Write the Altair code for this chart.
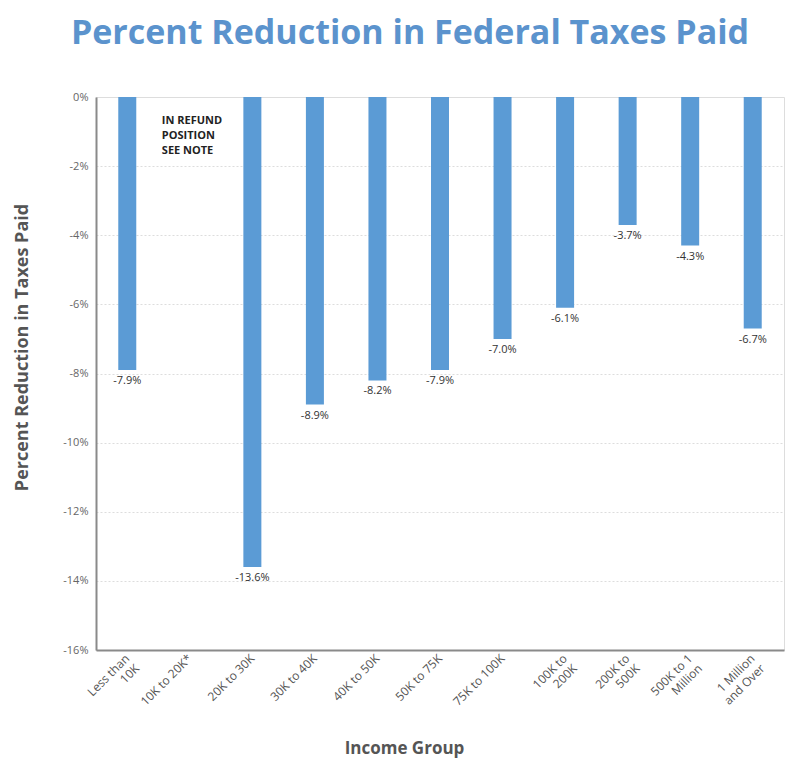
import altair as alt
import pandas as pd

groups = ["Less than|10K", "10K to 20K*", "20K to 30K", "30K to 40K", "40K to 50K",
          "50K to 75K", "75K to 100K", "100K to|200K", "200K to|500K", "500K to 1|Million",
          "1 Million|and Over"]
values = [-7.9, None, -13.6, -8.9, -8.2, -7.9, -7.0, -6.1, -3.7, -4.3, -6.7]
labels = ["-7.9%", "", "-13.6%", "-8.9%", "-8.2%", "-7.9%", "-7.0%", "-6.1%", "-3.7%", "-4.3%", "-6.7%"]

df = pd.DataFrame({"group": groups, "value": values, "label": labels})
bars_df = df.dropna()

note_df = pd.DataFrame({"group": ["10K to 20K*"], "text": [["IN REFUND", "POSITION", "SEE NOTE"]]})

x_enc = alt.X("group:N", sort=groups, scale=alt.Scale(paddingInner=0.0, paddingOuter=0.0),
              axis=alt.Axis(title="Income Group", labelAngle=-45, labelAlign="right",
                            labelBaseline="middle", labelExpr="split(datum.label, '|')",
                            labelFontSize=12, labelColor="#555555", labelFont="Open Sans",
                            labelPadding=6, ticks=False, domainColor="#8a8a8a", domainWidth=2,
                            titleFont="Open Sans", titleFontSize=17, titleFontWeight="bold",
                            titleColor="#555555", titleX=308, titleY=103,
                            titleBaseline="alphabetic", titleAnchor="middle"))

y_scale = alt.Scale(domain=[-16, 0], nice=False)

bars = alt.Chart(bars_df).mark_bar(size=18, color="#5b9bd5").encode(
    x=x_enc,
    y=alt.Y("value:Q", scale=y_scale,
            axis=alt.Axis(title="Percent Reduction in Taxes Paid", values=list(range(-16, 1, 2)),
                          labelExpr="datum.value + '%'", labelFontSize=11, labelColor="#666666",
                          labelFont="Open Sans", ticks=False, labelPadding=8,
                          domainColor="#8a8a8a", domainWidth=2,
                          grid=True, gridColor="#dddddd", gridDash=[2, 2],
                          titleFont="Open Sans", titleFontSize=18, titleFontWeight="bold",
                          titleColor="#555555", titleX=-69, titleY=250,
                          titleBaseline="alphabetic")),
)

text = alt.Chart(bars_df).mark_text(baseline="top", dy=5, fontSize=11, color="#333333",
                                    font="Open Sans").encode(
    x=alt.X("group:N", sort=groups),
    y=alt.Y("value:Q", scale=y_scale),
    text="label:N",
)

note = alt.Chart(note_df).mark_text(align="left", baseline="top", dx=-28, fontSize=11,
                                    fontWeight="bold", color="#222222", font="Open Sans",
                                    lineHeight=15).encode(
    x=alt.X("group:N", sort=groups),
    y=alt.value(18),
    text="text",
)

chart = alt.layer(bars, text, note).properties(
    width=688, height=553,
    title=alt.TitleParams("Percent Reduction in Federal Taxes Paid", fontSize=34,
                          font="Open Sans", fontWeight="bold", color="#5b93cd",
                          anchor="middle", dx=-30, offset=40),
    autosize=alt.AutoSizeParams(type="none"),
    padding={"left": 88, "top": 89, "right": 7, "bottom": 110},
).configure_view(stroke=None).configure(background="white")

chart.save("out.html", embed_options={"renderer": "svg", "actions": False})
